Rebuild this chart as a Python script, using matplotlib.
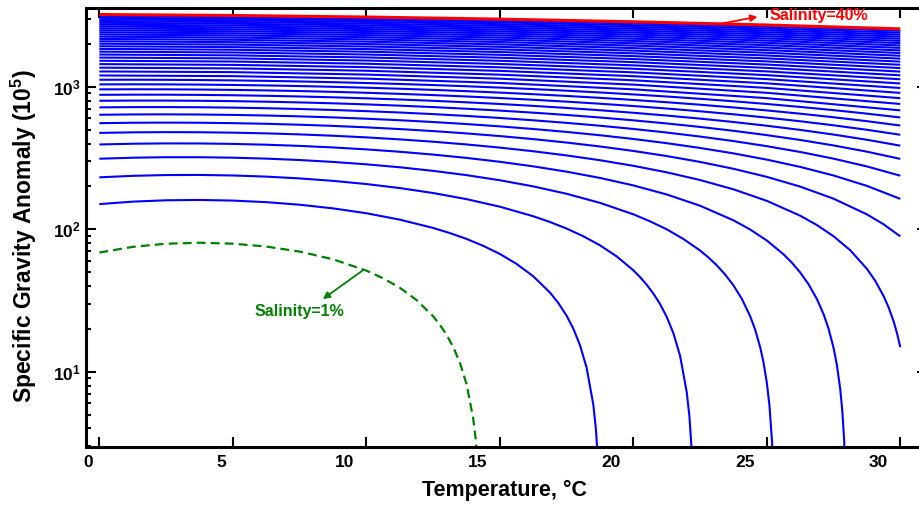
import numpy as np
import matplotlib.pyplot as plt
from matplotlib.ticker import LogLocator, FuncFormatter, NullFormatter
from matplotlib.transforms import ScaledTranslation

plt.rcParams['font.family'] = 'Liberation Sans'
plt.rcParams['font.weight'] = 'bold'
plt.rcParams['mathtext.fontset'] = 'custom'
plt.rcParams['mathtext.rm'] = 'Liberation Sans:bold'
plt.rcParams['mathtext.bf'] = 'Liberation Sans:bold'
plt.rcParams['mathtext.default'] = 'bf'

# ---- data: specific gravity anomaly (1e-5) vs temperature, one curve per salinity ----
# low salinities drop through zero, so each gets its own temperatures
sal_01_t = [0, 1.25, 2.5, 3.75, 5, 6.25, 7.5, 8.75, 10, 10.625, 11.25, 11.875, 12.5, 12.75, 13, 13.25,
            13.5, 13.75, 14, 14.1, 14.2]
sal_01 = [68.68, 75.29, 79.19, 80.48, 79.28, 75.68, 69.76, 61.61, 51.32, 45.36, 38.94, 31.95, 24.56, 21.42,
          18.26, 14.98, 11.65, 8.24, 4.74, 3.33, 1.90]

sal_02_t = [0, 1.25, 2.5, 3.75, 5, 6.25, 7.5, 8.75, 10, 11.25, 12.5, 13.125, 13.75, 14.375, 15, 15.625,
            16.25, 16.875, 17.1875, 17.5, 17.75, 18, 18.25, 18.5, 18.6, 18.7]
sal_02 = [150.23, 156.36, 159.80, 160.67, 159.05, 155.06, 148.76, 140.26, 129.62, 116.92, 102.23, 94.14,
          85.61, 76.59, 67.13, 57.20, 46.83, 36.03, 30.46, 24.78, 20.13, 15.42, 10.70, 5.91, 3.95, 2.0]

sal_03_t = [0, 1.25, 2.5, 3.75, 5, 6.25, 7.5, 8.75, 10, 11.25, 12.5, 13.75, 15, 16.25, 16.875, 17.5,
            18.125, 18.75, 19.375, 20, 20.25, 20.5, 20.75, 21, 21.25, 21.5, 21.75, 22, 22.1, 22.2]
sal_03 = [231.57, 237.22, 240.22, 240.66, 238.64, 234.25, 227.59, 218.73, 207.75, 194.74, 179.74, 162.83,
          144.07, 123.51, 112.56, 101.21, 89.41, 77.22, 64.59, 51.57, 46.24, 40.85, 35.41, 29.90, 24.32,
          18.68, 12.99, 7.21, 4.89, 2.57]

sal_04_t = [0, 1.25, 2.5, 3.75, 5, 6.25, 7.5, 8.75, 10, 11.25, 12.5, 13.75, 15, 16.25, 17.5, 18.75, 20,
            20.625, 21.25, 21.875, 22.5, 22.8125, 23.125, 23.4375, 23.75, 24.0625, 24.375, 24.5625,
            24.75, 24.875, 25, 25.1, 25.2, 25.3]
sal_04 = [312.75, 317.94, 320.49, 320.51, 318.09, 313.32, 306.29, 297.08, 285.77, 272.44, 257.14, 239.95,
          220.91, 200.10, 177.55, 153.31, 127.44, 113.77, 100.0, 85.53, 70.96, 63.44, 55.9, 48.18, 40.43,
          32.56, 24.60, 19.78, 14.92, 11.67, 8.40, 5.78, 3.15, 0.52]

sal_05_t = [0, 1.25, 2.5, 3.75, 5, 6.25, 7.5, 8.75, 10, 11.25, 12.5, 13.75, 15, 16.25, 17.5, 18.75, 20,
            21.25, 22.5, 23.75, 24.375, 25, 25.625, 25.9375, 26.25, 26.5625, 26.875, 27.125, 27.3125,
            27.5, 27.625, 27.75, 27.825, 27.9, 28.0]
sal_05 = [393.81, 398.55, 400.66, 400.26, 397.44, 392.29, 384.89, 375.34, 363.71, 350.06, 334.46, 316.98,
          297.68, 276.55, 253.81, 229.34, 203.25, 175.58, 146.35, 115.63, 99.71, 83.43, 66.78, 58.33,
          49.78, 41.16, 32.44, 25.40, 20.08, 14.74, 11.16, 7.56, 5.40, 3.23, 0.33]

sal_06_t = [0, 1.25, 2.5, 3.75, 5, 6.25, 7.5, 8.75, 10, 11.25, 12.5, 13.75, 15, 16.25, 17.5, 18.75, 20,
            21.25, 22.5, 23.75, 25, 26.25, 26.875, 27.5, 28.125, 28.75, 29.0625, 29.375, 29.5625, 29.75,
            29.875, 30]
sal_06 = [474.78, 479.06, 480.74, 479.92, 476.71, 471.18, 463.43, 453.53, 441.57, 427.62, 411.72, 393.96,
          374.39, 352.96, 330.02, 305.33, 279.01, 251.12, 221.70, 190.79, 158.40, 124.59, 107.16, 89.38,
          71.26, 52.79, 43.44, 34.0, 28.3, 22.56, 18.72, 14.87]

sal_07_t = [0, 1.25, 2.5, 3.75, 5, 6.25, 7.5, 8.75, 10, 11.25, 12.5, 13.75, 15, 16.25, 17.5, 18.75, 20,
            21.25, 22.5, 23.75, 25, 26.25, 27.5, 28.75, 29.375, 30]
sal_07 = [555.67, 559.49, 560.74, 559.52, 555.91, 550.01, 541.90, 531.67, 519.39, 505.12, 488.94, 470.90,
          451.06, 429.38, 406.19, 381.27, 354.73, 326.63, 297.02, 265.91, 233.35, 199.36, 163.99, 127.25,
          108.4, 89.18]

# salinities 8-14 read every 1.25 degC
temp_mid = [0, 1.25, 2.5, 3.75, 5, 6.25, 7.5, 8.75, 10, 11.25, 12.5, 13.75, 15, 16.25, 17.5, 18.75, 20,
            21.25, 22.5, 23.75, 25, 26.25, 27.5, 28.75, 30]
sal_08 = [636.49, 639.87, 640.69, 639.06, 635.06, 628.79, 620.33, 609.77, 597.16, 582.59, 566.11, 547.79,
          527.69, 505.76, 482.34, 457.18, 430.43, 402.12, 372.31, 341.01, 308.27, 274.11, 238.58, 201.69,
          163.47]
sal_09 = [717.26, 720.19, 720.59, 718.55, 714.17, 707.53, 698.72, 687.82, 674.90, 660.03, 643.26, 624.66,
          604.30, 582.12, 558.46, 533.07, 506.10, 477.59, 447.58, 416.09, 383.18, 348.85, 313.16, 276.11,
          237.75]
sal_10 = [797.98, 800.47, 800.45, 798.01, 793.24, 786.24, 777.09, 765.85, 752.61, 737.44, 720.39, 701.52,
          680.89, 658.46, 634.56, 608.95, 581.77, 553.05, 522.84, 491.17, 458.08, 423.58, 387.73, 350.53,
          312.02]
sal_11 = [878.66, 880.72, 880.27, 877.44, 872.29, 864.92, 855.42, 843.86, 830.31, 814.84, 797.50, 778.36,
          757.47, 734.79, 710.66, 684.83, 657.43, 628.50, 598.10, 566.24, 532.98, 498.31, 462.30, 424.94,
          386.29]
sal_12 = [959.31, 960.93, 960.07, 956.84, 951.31, 943.59, 933.74, 921.86, 907.99, 892.22, 874.60, 855.19,
          834.05, 811.12, 786.75, 760.70, 733.08, 703.95, 673.36, 641.32, 607.88, 573.04, 536.87, 499.36,
          460.56]
sal_13 = [1039.93, 1041.12, 1039.85, 1036.22, 1030.32, 1022.24, 1012.05, 999.84, 985.67, 969.60, 951.70,
          932.01, 910.62, 887.45, 862.85, 836.57, 808.74, 779.41, 748.62, 716.40, 682.78, 647.77, 611.45,
          573.78, 534.84]
sal_14 = [1120.53, 1121.28, 1119.61, 1115.58, 1109.31, 1100.88, 1090.35, 1077.82, 1063.33, 1046.98,
          1028.79, 1008.84, 987.19, 963.78, 938.95, 912.45, 884.41, 854.88, 823.89, 791.49, 757.69, 722.52,
          686.04, 648.21, 609.13]

# salinities 15-40 read every 5 degC
temp_high = [0, 5, 10, 15, 20, 25, 30]
sal_15 = [1201.11, 1188.30, 1141.00, 1063.77, 960.09, 832.61, 683.43]
sal_16 = [1281.68, 1267.28, 1218.67, 1140.36, 1035.77, 907.55, 757.75]
sal_17 = [1362.23, 1346.26, 1296.35, 1216.96, 1111.48, 982.51, 832.09]
sal_18 = [1442.78, 1425.24, 1374.03, 1293.57, 1187.20, 1057.49, 906.45]
sal_19 = [1523.32, 1504.22, 1451.72, 1370.19, 1262.94, 1132.49, 980.83]
sal_20 = [1603.87, 1583.21, 1529.43, 1446.84, 1338.70, 1207.51, 1055.24]
sal_21 = [1684.41, 1662.21, 1607.15, 1523.51, 1414.49, 1282.56, 1129.67]
sal_22 = [1764.96, 1741.22, 1684.89, 1600.19, 1490.30, 1357.64, 1204.14]
sal_23 = [1845.51, 1820.24, 1762.65, 1676.90, 1566.14, 1432.75, 1278.63]
sal_24 = [1926.06, 1899.28, 1840.43, 1753.64, 1642.01, 1507.89, 1353.16]
sal_25 = [2006.63, 1978.33, 1918.23, 1830.40, 1717.91, 1583.06, 1427.71]
sal_26 = [2087.21, 2057.40, 1996.05, 1907.19, 1793.84, 1658.26, 1502.31]
sal_27 = [2167.80, 2136.49, 2073.90, 1984.01, 1869.80, 1733.50, 1576.93]
sal_28 = [2248.40, 2215.60, 2151.78, 2060.86, 1945.80, 1808.78, 1651.60]
sal_29 = [2329.02, 2294.73, 2229.68, 2137.75, 2021.83, 1884.09, 1726.30]
sal_30 = [2409.66, 2373.89, 2307.61, 2214.66, 2097.90, 1959.44, 1801.04]
sal_31 = [2490.31, 2453.07, 2385.57, 2291.61, 2174.00, 2034.83, 1875.82]
sal_32 = [2570.99, 2532.27, 2463.56, 2368.60, 2250.15, 2110.26, 1950.64]
sal_33 = [2651.68, 2611.50, 2541.58, 2445.62, 2326.33, 2185.73, 2025.51]
sal_34 = [2732.40, 2690.76, 2619.64, 2522.68, 2402.55, 2261.24, 2100.41]
sal_35 = [2813.14, 2770.05, 2697.73, 2599.78, 2478.81, 2336.80, 2175.36]
sal_36 = [2893.90, 2849.37, 2775.86, 2676.91, 2555.12, 2412.40, 2250.36]
sal_37 = [2974.69, 2928.72, 2854.02, 2754.09, 2631.46, 2488.04, 2325.40]
sal_38 = [3055.50, 3008.10, 2932.22, 2831.30, 2707.85, 2563.73, 2400.48]
sal_39 = [3136.34, 3087.52, 3010.46, 2908.56, 2784.29, 2639.46, 2475.61]
sal_40 = [3217.21, 3166.97, 3088.74, 2985.86, 2860.76, 2715.24, 2550.79]

x_ticks = [0, 5, 10, 15, 20, 25, 30]

blue_curves = [
    (sal_02_t, sal_02), (sal_03_t, sal_03), (sal_04_t, sal_04), (sal_05_t, sal_05),
    (sal_06_t, sal_06), (sal_07_t, sal_07),
]
for s in [sal_08, sal_09, sal_10, sal_11, sal_12, sal_13, sal_14]:
    blue_curves.append((temp_mid, s))
for s in [sal_15, sal_16, sal_17, sal_18, sal_19, sal_20, sal_21, sal_22, sal_23,
          sal_24, sal_25, sal_26, sal_27, sal_28, sal_29, sal_30, sal_31, sal_32,
          sal_33, sal_34, sal_35, sal_36, sal_37, sal_38, sal_39]:
    blue_curves.append((temp_high, s))

# ---- plot ----
fig = plt.figure(figsize=(9.19, 5.05), dpi=100)
ax = fig.add_axes([86 / 919, 1 - 446.7 / 505, 841 / 919, 438.4 / 505])

for t, s in blue_curves:
    ax.plot(t, s, color='#0000ff', lw=1.5, solid_capstyle='butt', solid_joinstyle='round')
ax.plot(sal_01_t, sal_01, color='#008000', lw=1.6, ls=(0, (4, 2.3)))
ax.plot(temp_high, sal_40, color='#ff0000', lw=2.2, solid_capstyle='butt')

ax.set_yscale('log')
ax.set_xlim(-0.5, 31)
ax.set_ylim(2.98, 3556)

ax.set_xticks(x_ticks)
ax.set_xticklabels([str(v) for v in x_ticks])
ax.yaxis.set_major_locator(LogLocator(base=10))
ax.yaxis.set_minor_locator(LogLocator(base=10, subs=np.arange(2, 10)))
ax.yaxis.set_minor_formatter(NullFormatter())
ax.yaxis.set_major_formatter(FuncFormatter(lambda v, p: r'$10^{%d}$' % round(np.log10(v))))

ax.tick_params(which='both', direction='in', top=True, right=True, width=1.5, labelsize=12.5)
ax.tick_params(which='major', length=7)
ax.tick_params(which='minor', length=3.5)
ax.tick_params(axis='x', pad=6)
ax.tick_params(axis='y', pad=4)
for sp in ax.spines.values():
    sp.set_linewidth(2.2)

# the x labels in the original sit left of their ticks
for lab in ax.get_xticklabels():
    dx = -11.5 if len(lab.get_text()) == 1 else -22
    lab.set_transform(lab.get_transform() + ScaledTranslation(dx / 100, 0, fig.dpi_scale_trans))

fig.text(504 / 919, 1 - 490 / 505, 'Temperature, °C', fontsize=15.5, ha='center', va='center')
fig.text(24 / 919, 1 - 236 / 505, r'Specific Gravity Anomaly (10$^{5}$)', fontsize=16.5,
         rotation=90, ha='center', va='center')

# labels for first and last curves
ax.text(25.1, 3140, 'Salinity=40%', color='#ff0000', fontsize=11.5, ha='left', va='center')
ax.annotate('', xy=(24.65, 3104), xytext=(23.23, 2759),
            arrowprops=dict(arrowstyle='-|>', color='#ff0000', lw=1.3, mutation_scale=10,
                            shrinkA=0, shrinkB=0))
ax.text(7.48, 26.4, 'Salinity=1%', color='#008000', fontsize=11.5, ha='center', va='center')
ax.annotate('', xy=(8.37, 32.4), xytext=(9.85, 51.2),
            arrowprops=dict(arrowstyle='-|>', color='#008000', lw=1.3, mutation_scale=10,
                            shrinkA=0, shrinkB=0))

fig.savefig('out.png', dpi=100)
